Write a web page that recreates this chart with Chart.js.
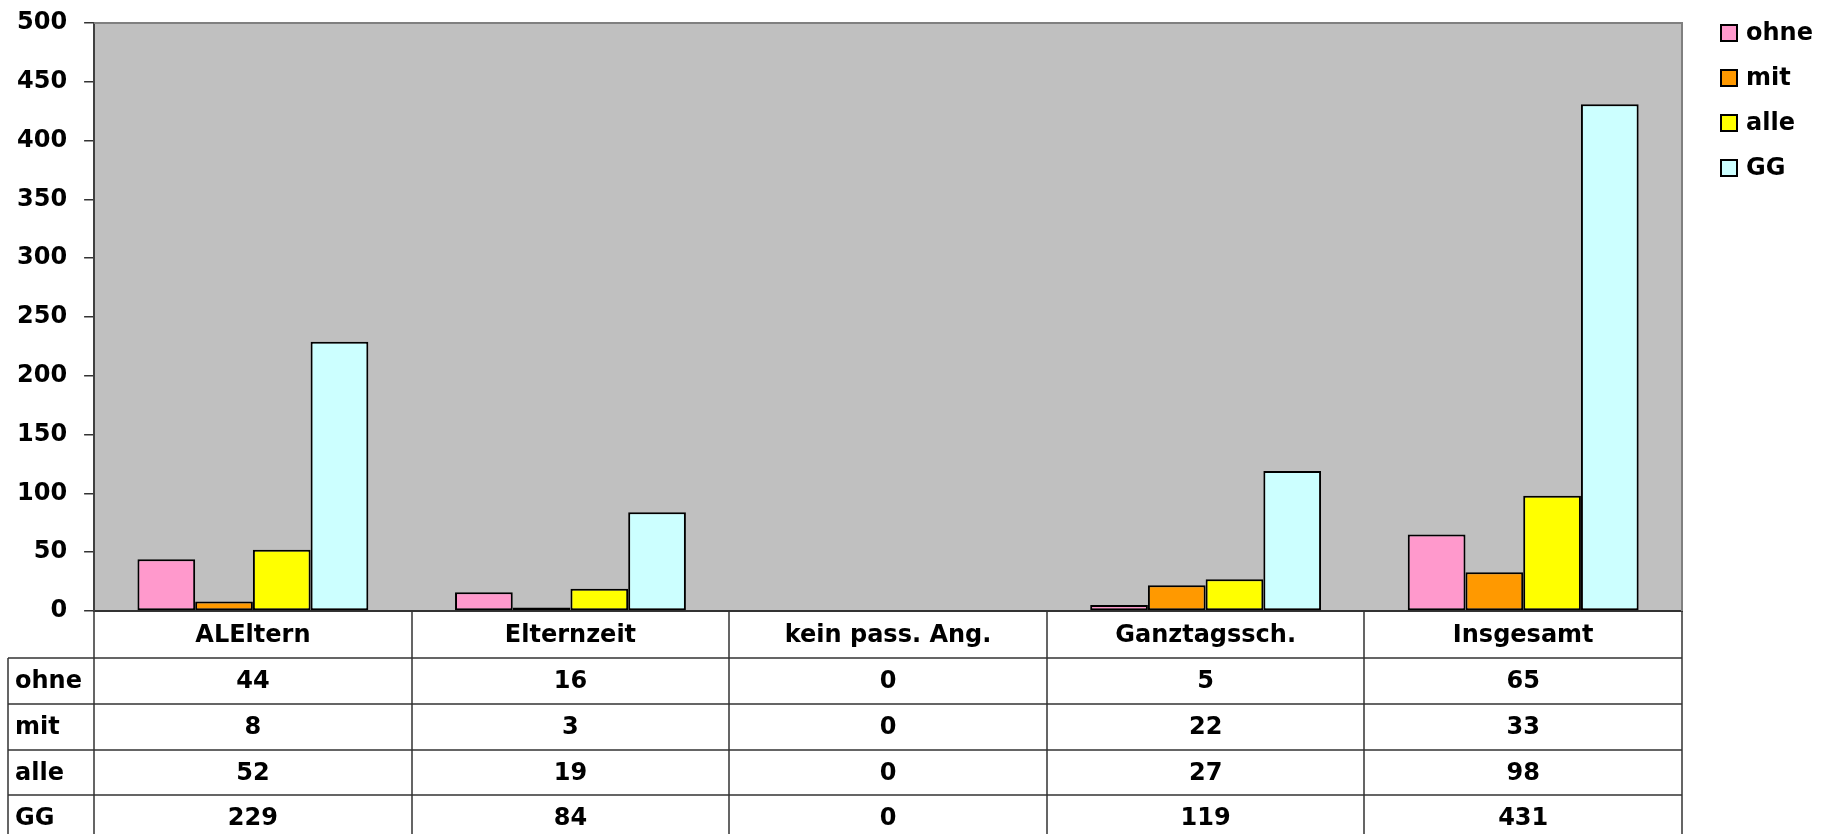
<!DOCTYPE html>
<html>
<head>
<meta charset="utf-8">
<script src="https://cdn.jsdelivr.net/npm/chart.js@4.4.1/dist/chart.umd.min.js"></script>
<style>
  html, body { margin: 0; padding: 0; background: #fff; }
  #wrap { width: 1845px; height: 834px; }
</style>
</head>
<body>
<div id="wrap"><canvas id="chart" width="1845" height="834"></canvas></div>
<script>
const kategorien = ['ALEltern', 'Elternzeit', 'kein pass. Ang.', 'Ganztagssch.', 'Insgesamt'];
const ohne = [44, 16, 0, 5, 65];
const mit = [8, 3, 0, 22, 33];
const alle = [52, 19, 0, 27, 98];
const gg = [229, 84, 0, 119, 431];
const yTicks = [0, 50, 100, 150, 200, 250, 300, 350, 400, 450, 500];

const FONT = 'bold 24px "DejaVu Sans"';

// Datentabelle unter der Grafik + Legende rechts
const tabelle = {
  id: 'tabelle',
  beforeDraw(chart) {
    const { ctx, chartArea: a } = chart;
    ctx.save();
    ctx.fillStyle = '#c0c0c0';
    ctx.fillRect(a.left, a.top, a.right - a.left, a.bottom - a.top);
    ctx.restore();
  },
  afterDraw(chart) {
    const { ctx, chartArea: a, scales } = chart;
    const x = scales.x;
    const sets = chart.data.datasets;
    const colW = (a.right - a.left) / kategorien.length;
    const rows = [a.bottom, a.bottom + 47, a.bottom + 93, a.bottom + 139, a.bottom + 184, a.bottom + 230];
    const tabLeft = 8;
    ctx.save();
    // Rahmen oben / rechts
    ctx.strokeStyle = '#808080';
    ctx.lineWidth = 2;
    ctx.beginPath();
    ctx.moveTo(a.left, a.top); ctx.lineTo(a.right, a.top); ctx.lineTo(a.right, a.bottom);
    ctx.stroke();
    // Gitter der Tabelle
    ctx.strokeStyle = '#333';
    ctx.lineWidth = 1.5;
    ctx.beginPath();
    for (let i = 0; i <= kategorien.length; i++) {
      const xx = Math.round(a.left + i * colW);
      ctx.moveTo(xx, rows[0]); ctx.lineTo(xx, rows[5]);
    }
    for (let r = 1; r < 5; r++) {
      ctx.moveTo(tabLeft, rows[r]); ctx.lineTo(a.right, rows[r]);
    }
    ctx.moveTo(tabLeft, rows[1]); ctx.lineTo(tabLeft, rows[5]);
    ctx.stroke();
    // Texte
    ctx.font = FONT;
    ctx.fillStyle = '#000';
    ctx.textBaseline = 'middle';
    ctx.textAlign = 'center';
    kategorien.forEach((k, i) => {
      const cx = x.getPixelForValue(i);
      ctx.fillText(k, cx, (rows[0] + rows[1]) / 2 + 1);
      sets.forEach((ds, r) => {
        ctx.fillText(String(ds.data[i]), cx, (rows[r + 1] + rows[r + 2]) / 2 + 1);
      });
    });
    ctx.textAlign = 'left';
    sets.forEach((ds, r) => ctx.fillText(ds.label, 15, (rows[r + 1] + rows[r + 2]) / 2 + 1));
    // Legende
    sets.forEach((ds, r) => {
      const ly = 33 + r * 45;
      ctx.fillStyle = ds.backgroundColor;
      ctx.fillRect(1721, ly - 8, 16, 16);
      ctx.strokeStyle = '#000';
      ctx.lineWidth = 2;
      ctx.strokeRect(1721, ly - 8, 16, 16);
      ctx.fillStyle = '#000';
      ctx.fillText(ds.label, 1746, ly + 1);
    });
    ctx.restore();
  }
};

const bar = (label, data, color) => ({
  label, data, backgroundColor: color, borderColor: '#000', borderWidth: 2,
  borderSkipped: false, barPercentage: 1, categoryPercentage: 0.727
});

Chart.defaults.font.family = '"DejaVu Sans"';
Chart.defaults.font.size = 24;
Chart.defaults.font.weight = 'bold';
Chart.defaults.color = '#000';

new Chart(document.getElementById('chart'), {
  type: 'bar',
  data: {
    labels: kategorien,
    datasets: [
      bar('ohne', ohne, '#ff99cc'),
      bar('mit', mit, '#ff9900'),
      bar('alle', alle, '#ffff00'),
      bar('GG', gg, '#ccffff'),
    ],
  },
  options: {
    responsive: false, animation: false, devicePixelRatio: 1,
    layout: { padding: { left: 0, top: 0, right: 163, bottom: 223 } },
    plugins: { legend: { display: false }, tooltip: { enabled: false } },
    scales: {
      x: {
        grid: { display: false, drawTicks: false },
        ticks: { display: false },
        border: { display: true, color: '#333', width: 2 },
      },
      y: {
        min: 0, max: 500,
        afterBuildTicks: (s) => { s.ticks = yTicks.map(v => ({ value: v })); },
        grid: { drawOnChartArea: false, drawTicks: true, tickLength: 10, color: '#333', lineWidth: 1.5 },
        border: { display: true, color: '#404040', width: 2 },
        ticks: { padding: 17, font: { size: 24, weight: 'bold', lineHeight: 0.5 } },
      },
    },
  },
  plugins: [tabelle],
});
</script>
</body>
</html>
